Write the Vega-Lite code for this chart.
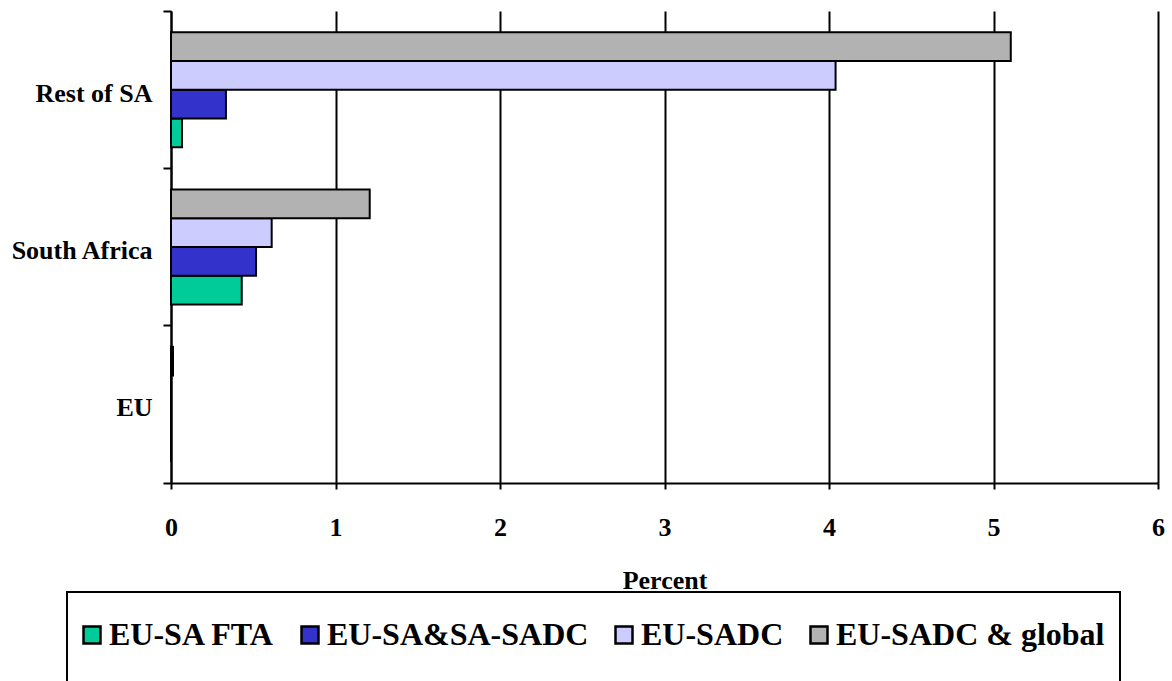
{
  "$schema": "https://vega.github.io/schema/vega-lite/v6.json",
  "width": 987,
  "height": 472,
  "autosize": {"type": "none"},
  "padding": {"left": 171, "top": 11, "right": 14, "bottom": 198},
  "background": "white",
  "config": {
    "view": {"stroke": null},
    "font": "Liberation Serif",
    "legend": {"strokeWidth": 2}
  },
  "data": {
    "values": [
      {"region": "Rest of SA", "scenario": "EU-SA FTA", "value": 0.067},
      {"region": "Rest of SA", "scenario": "EU-SA&SA-SADC", "value": 0.334},
      {"region": "Rest of SA", "scenario": "EU-SADC", "value": 4.04},
      {"region": "Rest of SA", "scenario": "EU-SADC & global", "value": 5.105},
      {"region": "South Africa", "scenario": "EU-SA FTA", "value": 0.43},
      {"region": "South Africa", "scenario": "EU-SA&SA-SADC", "value": 0.517},
      {"region": "South Africa", "scenario": "EU-SADC", "value": 0.612},
      {"region": "South Africa", "scenario": "EU-SADC & global", "value": 1.208},
      {"region": "EU", "scenario": "EU-SA FTA", "value": 0},
      {"region": "EU", "scenario": "EU-SA&SA-SADC", "value": 0},
      {"region": "EU", "scenario": "EU-SADC", "value": 0},
      {"region": "EU", "scenario": "EU-SADC & global", "value": 0.012}
    ]
  },
  "layer": [
    {
      "mark": {"type": "bar", "stroke": "black", "strokeWidth": 2, "strokeJoin": "miter"},
      "encoding": {
        "y": {
          "field": "region",
          "type": "nominal",
          "sort": ["Rest of SA", "South Africa", "EU"],
          "scale": {"paddingInner": 0, "paddingOuter": 0},
          "axis": {
            "orient": "left",
            "title": null,
            "ticks": false,
            "labelPadding": 19,
            "labelOffset": 4,
            "labelFontSize": 26,
            "labelFontWeight": "bold",
            "labelFont": "Liberation Serif",
            "labelColor": "black",
            "domainColor": "black",
            "domainWidth": 2,
            "grid": false
          }
        },
        "yOffset": {
          "field": "scenario",
          "type": "nominal",
          "sort": ["EU-SADC & global", "EU-SADC", "EU-SA&SA-SADC", "EU-SA FTA"],
          "scale": {"paddingInner": 0, "paddingOuter": 0.736}
        },
        "x": {
          "field": "value",
          "type": "quantitative",
          "scale": {"domain": [0, 6], "nice": false},
          "axis": {
            "values": [0, 1, 2, 3, 4, 5, 6],
            "format": "d",
            "title": "Percent",
            "titleFont": "Liberation Serif",
            "titleFontSize": 26,
            "titleFontWeight": "bold",
            "titleColor": "black",
            "titlePadding": 27,
            "labelFont": "Liberation Serif",
            "labelFontSize": 26,
            "labelFontWeight": "bold",
            "labelColor": "black",
            "labelPadding": 25,
            "labelFlush": false,
            "tickSize": 6,
            "tickWidth": 2,
            "tickColor": "black",
            "domainColor": "black",
            "domainWidth": 2,
            "grid": true,
            "gridColor": "black",
            "gridWidth": 2,
            "gridOpacity": 1
          }
        },
        "color": {
          "field": "scenario",
          "type": "nominal",
          "scale": {
            "domain": ["EU-SA FTA", "EU-SA&SA-SADC", "EU-SADC", "EU-SADC & global"],
            "range": ["#00CC99", "#3333CC", "#CCCCFF", "#B2B2B2"]
          },
          "legend": {
            "orient": "none",
            "legendX": -104,
            "legendY": 581,
            "direction": "horizontal",
            "title": "\u00a0",
            "titleOrient": "bottom",
            "titleFontSize": 30,
            "titlePadding": 10,
            "strokeColor": "black",
            "padding": 15,
            "clipHeight": 56,
            "symbolType": "square",
            "symbolSize": 289,
            "symbolStrokeColor": "black",
            "symbolStrokeWidth": 2.5,
            "symbolOpacity": 1,
            "symbolOffset": -6,
            "labelFont": "Liberation Serif",
            "labelFontSize": 32,
            "labelFontWeight": "bold",
            "labelColor": "black",
            "labelOffset": 1,
            "labelLimit": 400,
            "columnPadding": 25
          }
        }
      }
    },
    {
      "mark": {"type": "tick", "opacity": 0},
      "encoding": {
        "y": {
          "field": "region",
          "type": "nominal",
          "sort": ["Rest of SA", "South Africa", "EU"],
          "axis": {
            "orient": "left",
            "title": null,
            "labels": false,
            "domain": false,
            "ticks": true,
            "tickSize": 8,
            "tickWidth": 2,
            "tickColor": "black",
            "bandPosition": 1,
            "tickExtra": true,
            "grid": false
          }
        }
      }
    }
  ],
  "resolve": {"axis": {"y": "independent"}}
}
